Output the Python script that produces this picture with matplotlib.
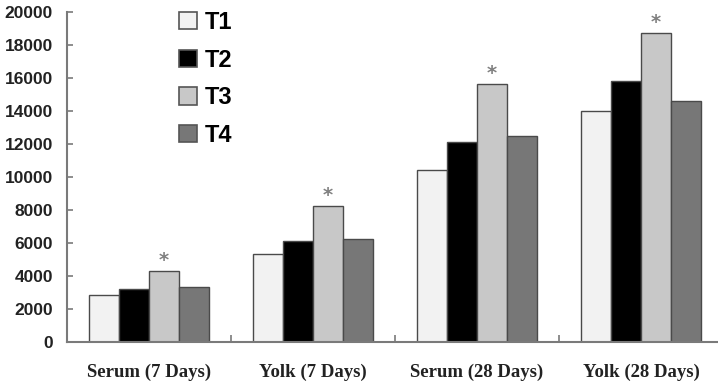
import numpy as np
import matplotlib.pyplot as plt

GROUPS = ["Serum (7 Days)", "Yolk (7 Days)", "Serum (28 Days)", "Yolk (28 Days)"]
SERIES = ["T1", "T2", "T3", "T4"]
T1 = [2850, 5300, 10400, 14000]
T2 = [3200, 6100, 12100, 15800]
T3 = [4250, 8200, 15600, 18700]
T4 = [3300, 6200, 12500, 14600]
STARRED = "T3"
Y_TICKS = list(range(0, 20001, 2000))

COLORS = ["#f2f2f2", "#000000", "#c8c8c8", "#777777"]
AXIS_GREY = "#7a7a7a"


def main() -> None:
    fig = plt.figure(figsize=(7.18, 3.81), dpi=100)
    ax = fig.add_axes([67 / 718, 1 - 341.5 / 381, 650 / 718, (341.5 - 12) / 381])

    x = np.arange(len(GROUPS))
    width = 0.184
    values = [T1, T2, T3, T4]

    for i, (name, vals) in enumerate(zip(SERIES, values)):
        offset = (i - 1.5) * width
        ax.bar(x + offset, vals, width, color=COLORS[i], edgecolor="#4a4a4a",
               linewidth=1.0, label=name)
        if name == STARRED:
            for xi, v in zip(x + offset, vals):
                ax.annotate("*", (xi, v), xytext=(0, 1), textcoords="offset points",
                            ha="center", va="bottom", fontsize=14, color="#808080",
                            fontweight="bold")

    ax.set_xlim(-0.5, 3.463)
    ax.set_ylim(0, 20000)

    # Axes styling
    for side in ["top", "right"]:
        ax.spines[side].set_visible(False)
    for side in ["left", "bottom"]:
        ax.spines[side].set_color(AXIS_GREY)
        ax.spines[side].set_linewidth(1.5)

    ax.set_yticks(Y_TICKS)
    ax.set_yticklabels([str(t) for t in Y_TICKS], fontfamily="Liberation Sans",
                       fontweight="bold", fontsize=12.5, color="#222222")
    ax.tick_params(axis="y", direction="in", length=4, color=AXIS_GREY, width=1.2, pad=10)

    ax.set_xticks(x)
    ax.set_xticklabels(GROUPS, fontfamily="Liberation Serif", fontweight="bold",
                       fontsize=13.5, color="#222222")
    ax.tick_params(axis="x", which="major", length=0, pad=16)
    ax.set_xticks([0.5, 1.5, 2.5], minor=True)
    ax.tick_params(axis="x", which="minor", direction="in", length=5, color=AXIS_GREY, width=1.2)

    leg = ax.legend(loc="upper left", bbox_to_anchor=(0.172, 1.003), frameon=False,
                    prop={"family": "Liberation Sans", "weight": "bold", "size": 17},
                    handlelength=0.75, handleheight=0.75, handletextpad=0.35,
                    labelspacing=0.62, borderpad=0, borderaxespad=0)
    for h in leg.legend_handles:
        h.set_edgecolor("#555555")
        h.set_linewidth(1.2)

    fig.savefig("out.png", dpi=100)


if __name__ == "__main__":
    main()
